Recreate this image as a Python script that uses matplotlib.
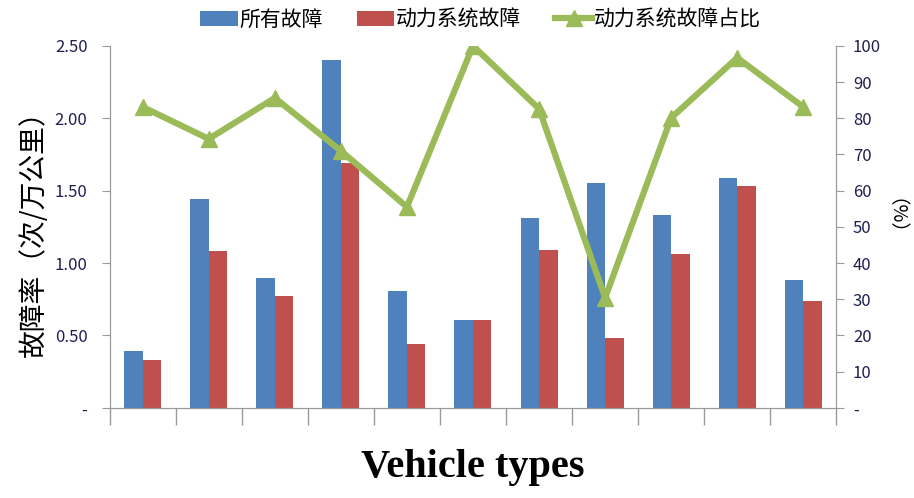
import numpy as np
import matplotlib.pyplot as plt
from matplotlib.ticker import FuncFormatter

plt.rcParams['font.family'] = ['Noto Sans CJK SC', 'DejaVu Sans']

# 数据
n_types = 11
all_faults = [0.39, 1.44, 0.90, 2.40, 0.81, 0.61, 1.31, 1.55, 1.33, 1.59, 0.88]
power_faults = [0.33, 1.08, 0.77, 1.69, 0.44, 0.61, 1.09, 0.48, 1.06, 1.53, 0.74]
power_share = [83.1, 74.3, 85.6, 71.0, 55.5, 100.0, 82.6, 30.4, 80.1, 96.7, 83.1]

blue = '#4F81BD'
red = '#C0504D'
green = '#9BBB59'
grey = '#9A9A9A'

fig = plt.figure(figsize=(9.14, 4.98), dpi=100)
ax = fig.add_axes([0.120, 0.181, 0.795, 0.727])
ax2 = ax.twinx()

x = np.arange(n_types)
w = 0.28
b1 = ax.bar(x - w / 2, all_faults, w, color=blue, label='所有故障')
b2 = ax.bar(x + w / 2, power_faults, w, color=red, label='动力系统故障')
l1, = ax2.plot(x, power_share, color=green, lw=4.5, marker='^', ms=11,
               label='动力系统故障占比')

ax.set_xlim(-0.5, n_types - 0.5)
ax.set_ylim(0, 2.5)
ax2.set_ylim(0, 100)

ax.set_yticks(np.arange(0, 2.51, 0.5))
ax.yaxis.set_major_formatter(FuncFormatter(lambda v, p: '-' if v == 0 else f'{v:.2f}'))
ax2.set_yticks(np.arange(0, 101, 10))
ax2.yaxis.set_major_formatter(FuncFormatter(lambda v, p: '-' if v == 0 else f'{v:.0f}'))

ax.set_xticks(np.arange(-0.5, n_types, 1))
ax.set_xticklabels([])
ax.tick_params(axis='x', length=12, color=grey, width=1)
ax.tick_params(axis='y', length=6, color=grey, labelsize=12, labelcolor='#1F2050', pad=10)
ax2.tick_params(axis='y', length=6, color=grey, labelsize=12, labelcolor='#1F2050', pad=6)

for a in (ax, ax2):
    a.spines['top'].set_visible(False)
    for s in ('left', 'right', 'bottom'):
        a.spines[s].set_color(grey)

ax.set_ylabel('故障率（次/万公里）', fontsize=20, labelpad=4)
ax2.set_ylabel('（%）', fontsize=14, rotation=270, labelpad=10)
ax.set_xlabel('Vehicle types', fontsize=29, fontweight='bold',
              family='Liberation Serif', labelpad=14)

fig.legend(handles=[b1, b2, l1], loc='upper center', bbox_to_anchor=(0.526, 1.02),
           ncol=3, frameon=False, fontsize=15, handlelength=1.8,
           handletextpad=0.1, columnspacing=1.6)

fig.savefig('out.png', dpi=100)
